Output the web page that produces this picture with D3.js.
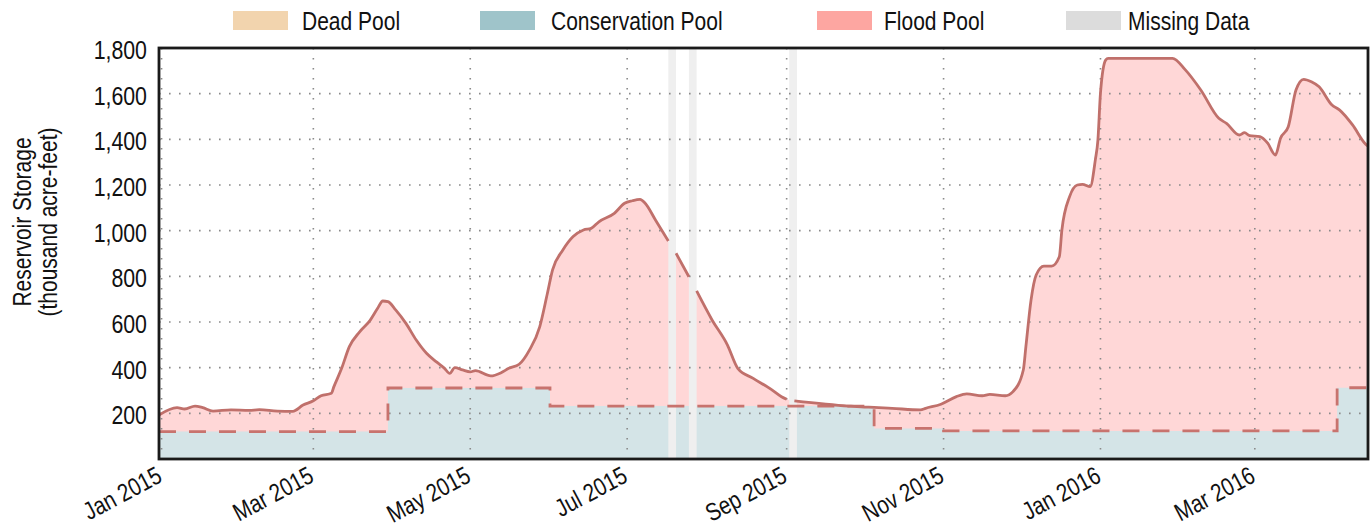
<!DOCTYPE html>
<html>
<head>
<meta charset="utf-8">
<script src="https://cdn.jsdelivr.net/npm/d3@7"></script>
<style>
  body { margin: 0; background: #fff; }
  svg text { font-family: 'Liberation Sans Narrow', 'Liberation Sans', sans-serif; fill: #111; }
</style>
</head>
<body>
<svg id="chart" width="1371" height="529"></svg>
<script>
// storage readings (thousand acre-feet), null = missing data
var storageDates = ["2014-12-31","2015-01-07","2015-01-10","2015-01-14","2015-01-17","2015-01-21","2015-01-28",
  "2015-02-04","2015-02-08","2015-02-15","2015-02-21","2015-02-25","2015-03-01","2015-03-04","2015-03-08",
  "2015-03-09","2015-03-12","2015-03-15","2015-03-19","2015-03-23","2015-03-26","2015-03-28","2015-03-30",
  "2015-04-02","2015-04-06","2015-04-10","2015-04-14","2015-04-18","2015-04-21","2015-04-23","2015-04-25",
  "2015-04-28","2015-05-01","2015-05-03","2015-05-09","2015-05-13","2015-05-16","2015-05-20","2015-05-24",
  "2015-05-28","2015-05-31","2015-06-02","2015-06-06","2015-06-10","2015-06-14","2015-06-17","2015-06-20",
  "2015-06-26","2015-06-30","2015-07-03","2015-07-06","2015-07-08","2015-07-12","2015-07-17","2015-07-18",
  "2015-07-19","2015-07-20","2015-07-25","2015-07-26","2015-07-27","2015-07-28","2015-08-03","2015-08-09",
  "2015-08-13","2015-08-19","2015-08-26","2015-08-30","2015-09-01","2015-09-02","2015-09-03","2015-09-04",
  "2015-09-25","2015-09-30","2015-10-05","2015-10-12","2015-10-23","2015-10-25","2015-10-31","2015-11-06",
  "2015-11-10","2015-11-16","2015-11-19","2015-11-25","2015-11-28","2015-12-02","2015-12-03","2015-12-05",
  "2015-12-07","2015-12-10","2015-12-13","2015-12-16","2015-12-17","2015-12-20","2015-12-23","2015-12-25",
  "2015-12-28","2015-12-30","2015-12-31","2016-01-01","2016-01-03","2016-01-04","2016-01-29","2016-02-03",
  "2016-02-09","2016-02-16","2016-02-19","2016-02-24","2016-02-26","2016-02-28","2016-03-03","2016-03-06",
  "2016-03-09","2016-03-11","2016-03-14","2016-03-17","2016-03-20","2016-03-23","2016-03-26","2016-03-31",
  "2016-04-03","2016-04-08","2016-04-13","2016-04-14"];
var storageValues = [193,225,219,232,225,210,215,
  213,216,210,209,236,255,277,288,
  317,397,492,557,606,660,692,689,
  653,594,521,463,424,397,375,400,
  390,382,387,364,378,397,415,477,
  579,726,828,915,974,1003,1010,1039,
  1076,1120,1131,1137,1120,1047,955,null,
  null,901,798,null,null,736,609,499,
  397,353,305,273,262,null,null,255,
  232,228,226,222,215,222,240,273,
  285,277,283,277,295,390,492,696,
  806,845,845,886,1003,1149,1200,1203,
  1193,1310,1397,1602,1747,1755,1755,1704,
  1616,1492,1470,1419,1429,1416,1412,1383,
  1331,1405,1455,1616,1663,1652,1630,1550,
  1528,1463,1380,1370];

// top of conservation pool (step changes)
var consDates  = ["2014-12-31","2015-03-30","2015-06-01","2015-10-05","2015-11-01","2016-04-02","2016-04-14"];
var consValues = [120, 311, 232, 134, 123, 312, 312];

// periods with no readings
var missingStart = ["2015-07-17","2015-07-25","2015-09-02"];
var missingEnd   = ["2015-07-20","2015-07-28","2015-09-05"];

var legendLabels = ["Dead Pool", "Conservation Pool", "Flood Pool", "Missing Data"];
var legendColors = ["#f2d4ae", "#9fc4ca", "#fda6a1", "#dcdcdc"];

var yTicks = [200, 400, 600, 800, 1000, 1200, 1400, 1600, 1800];

var parse = d3.utcParse("%Y-%m-%d");
var storage = storageDates.map(function(d, i) { return {date: parse(d), v: storageValues[i]}; });
var cons = consDates.map(function(d, i) { return {date: parse(d), v: consValues[i]}; });

var svg = d3.select("#chart");
// NOTE: "top" is reserved on window, so plot box uses p* names
var pLeft = 159, pRight = 1368, pTop = 48, pBottom = 459;

var x = d3.scaleUtc()
    .domain([Date.UTC(2014, 11, 31), Date.UTC(2016, 3, 14)])
    .range([pLeft, pRight]);
var y = d3.scaleLinear().domain([0, 1800]).range([pBottom, pTop]);

// squeeze text horizontally (no condensed font here)
function narrow(sel, k) {
  sel.each(function() {
    var w = this.getComputedTextLength();
    d3.select(this).attr("textLength", w * k).attr("lengthAdjust", "spacingAndGlyphs");
  });
}

// flood pool fill (interpolated over missing days), then conservation on top
var known = storage.filter(function(d) { return d.v != null; });
svg.append("path")
    .datum(known)
    .attr("fill", "#ffd7d7")
    .attr("d", d3.area().curve(d3.curveMonotoneX)
      .x(function(d) { return x(d.date); })
      .y0(y(0))
      .y1(function(d) { return y(d.v); }));

svg.append("path")
    .datum(cons)
    .attr("fill", "#d4e4e7")
    .attr("d", d3.area().curve(d3.curveStepAfter)
      .x(function(d) { return x(d.date); })
      .y0(y(0))
      .y1(function(d) { return y(d.v); }));

// missing data bands
svg.append("g").selectAll("rect")
    .data(missingStart)
    .enter().append("rect")
      .attr("x", function(d) { return x(parse(d)); })
      .attr("width", function(d, i) { return x(parse(missingEnd[i])) - x(parse(d)); })
      .attr("y", pTop)
      .attr("height", pBottom - pTop)
      .attr("fill", "#efefef");

// dotted grid
var grid = svg.append("g")
    .attr("stroke", "#8a8a8a")
    .attr("stroke-width", 1.6)
    .attr("stroke-dasharray", "1.6,8.4");
grid.selectAll(".h")
    .data(yTicks.slice(0, -1))
    .enter().append("line")
      .attr("x1", pLeft).attr("x2", pRight)
      .attr("y1", function(d) { return y(d); })
      .attr("y2", function(d) { return y(d); });
var xTicks = x.ticks(d3.utcMonth.every(2));
grid.selectAll(".v")
    .data(xTicks)
    .enter().append("line")
      .attr("y1", pTop).attr("y2", pBottom)
      .attr("x1", function(d) { return x(d); })
      .attr("x2", function(d) { return x(d); });

// conservation top, dashed
svg.append("path")
    .datum(cons)
    .attr("fill", "none")
    .attr("stroke", "#c8736e")
    .attr("stroke-width", 2.8)
    .attr("stroke-dasharray", "17,13")
    .attr("d", d3.line().curve(d3.curveStepAfter)
      .x(function(d) { return x(d.date); })
      .y(function(d) { return y(d.v); }));

// storage line, broken where data is missing
svg.append("path")
    .datum(storage)
    .attr("fill", "none")
    .attr("stroke", "#c0706b")
    .attr("stroke-width", 2.8)
    .attr("stroke-linejoin", "round")
    .attr("d", d3.line().curve(d3.curveMonotoneX)
      .defined(function(d) { return d.v != null; })
      .x(function(d) { return x(d.date); })
      .y(function(d) { return y(d.v); }));

// frame
svg.append("rect")
    .attr("x", pLeft).attr("y", pTop)
    .attr("width", pRight - pLeft).attr("height", pBottom - pTop)
    .attr("fill", "none")
    .attr("stroke", "#1a1a1a")
    .attr("stroke-width", 2.8);

// y tick labels
svg.append("g").selectAll("text")
    .data(yTicks)
    .enter().append("text")
      .attr("x", 147)
      .attr("y", function(d) { return y(d) + 11; })
      .attr("text-anchor", "end")
      .style("font-size", "26px")
      .text(d3.format(","))
      .call(narrow, 0.82);

// x tick labels
var fmt = d3.utcFormat("%b %Y");
svg.append("g").selectAll("text")
    .data(xTicks)
    .enter().append("text")
      .attr("transform", function(d) { return "translate(" + (x(d) + 2) + ",481) rotate(-28)"; })
      .attr("text-anchor", "end")
      .style("font-size", "25px")
      .text(fmt)
      .call(narrow, 0.82);

// y axis title
var title = svg.append("text")
    .attr("transform", "translate(0,222) rotate(-90)")
    .attr("text-anchor", "middle")
    .style("font-size", "25px");
title.append("tspan").attr("x", 0).attr("y", 31).text("Reservoir Storage");
title.append("tspan").attr("x", 0).attr("y", 57).text("(thousand acre-feet)");
title.selectAll("tspan").call(narrow, 0.84);

// legend
var legendX = [233, 480, 817, 1066];
var legend = svg.append("g").selectAll("g")
    .data(legendLabels)
    .enter().append("g")
      .attr("transform", function(d, i) { return "translate(" + legendX[i] + ",0)"; });
legend.append("rect")
    .attr("x", 0).attr("y", 11)
    .attr("width", 55).attr("height", 19)
    .attr("fill", function(d, i) { return legendColors[i]; });
legend.append("text")
    .attr("x", function(d, i) { return [69, 71, 67, 62][i]; })
    .attr("y", 30)
    .style("font-size", "25px")
    .text(function(d) { return d; })
    .call(narrow, 0.84);
</script>
</body>
</html>
